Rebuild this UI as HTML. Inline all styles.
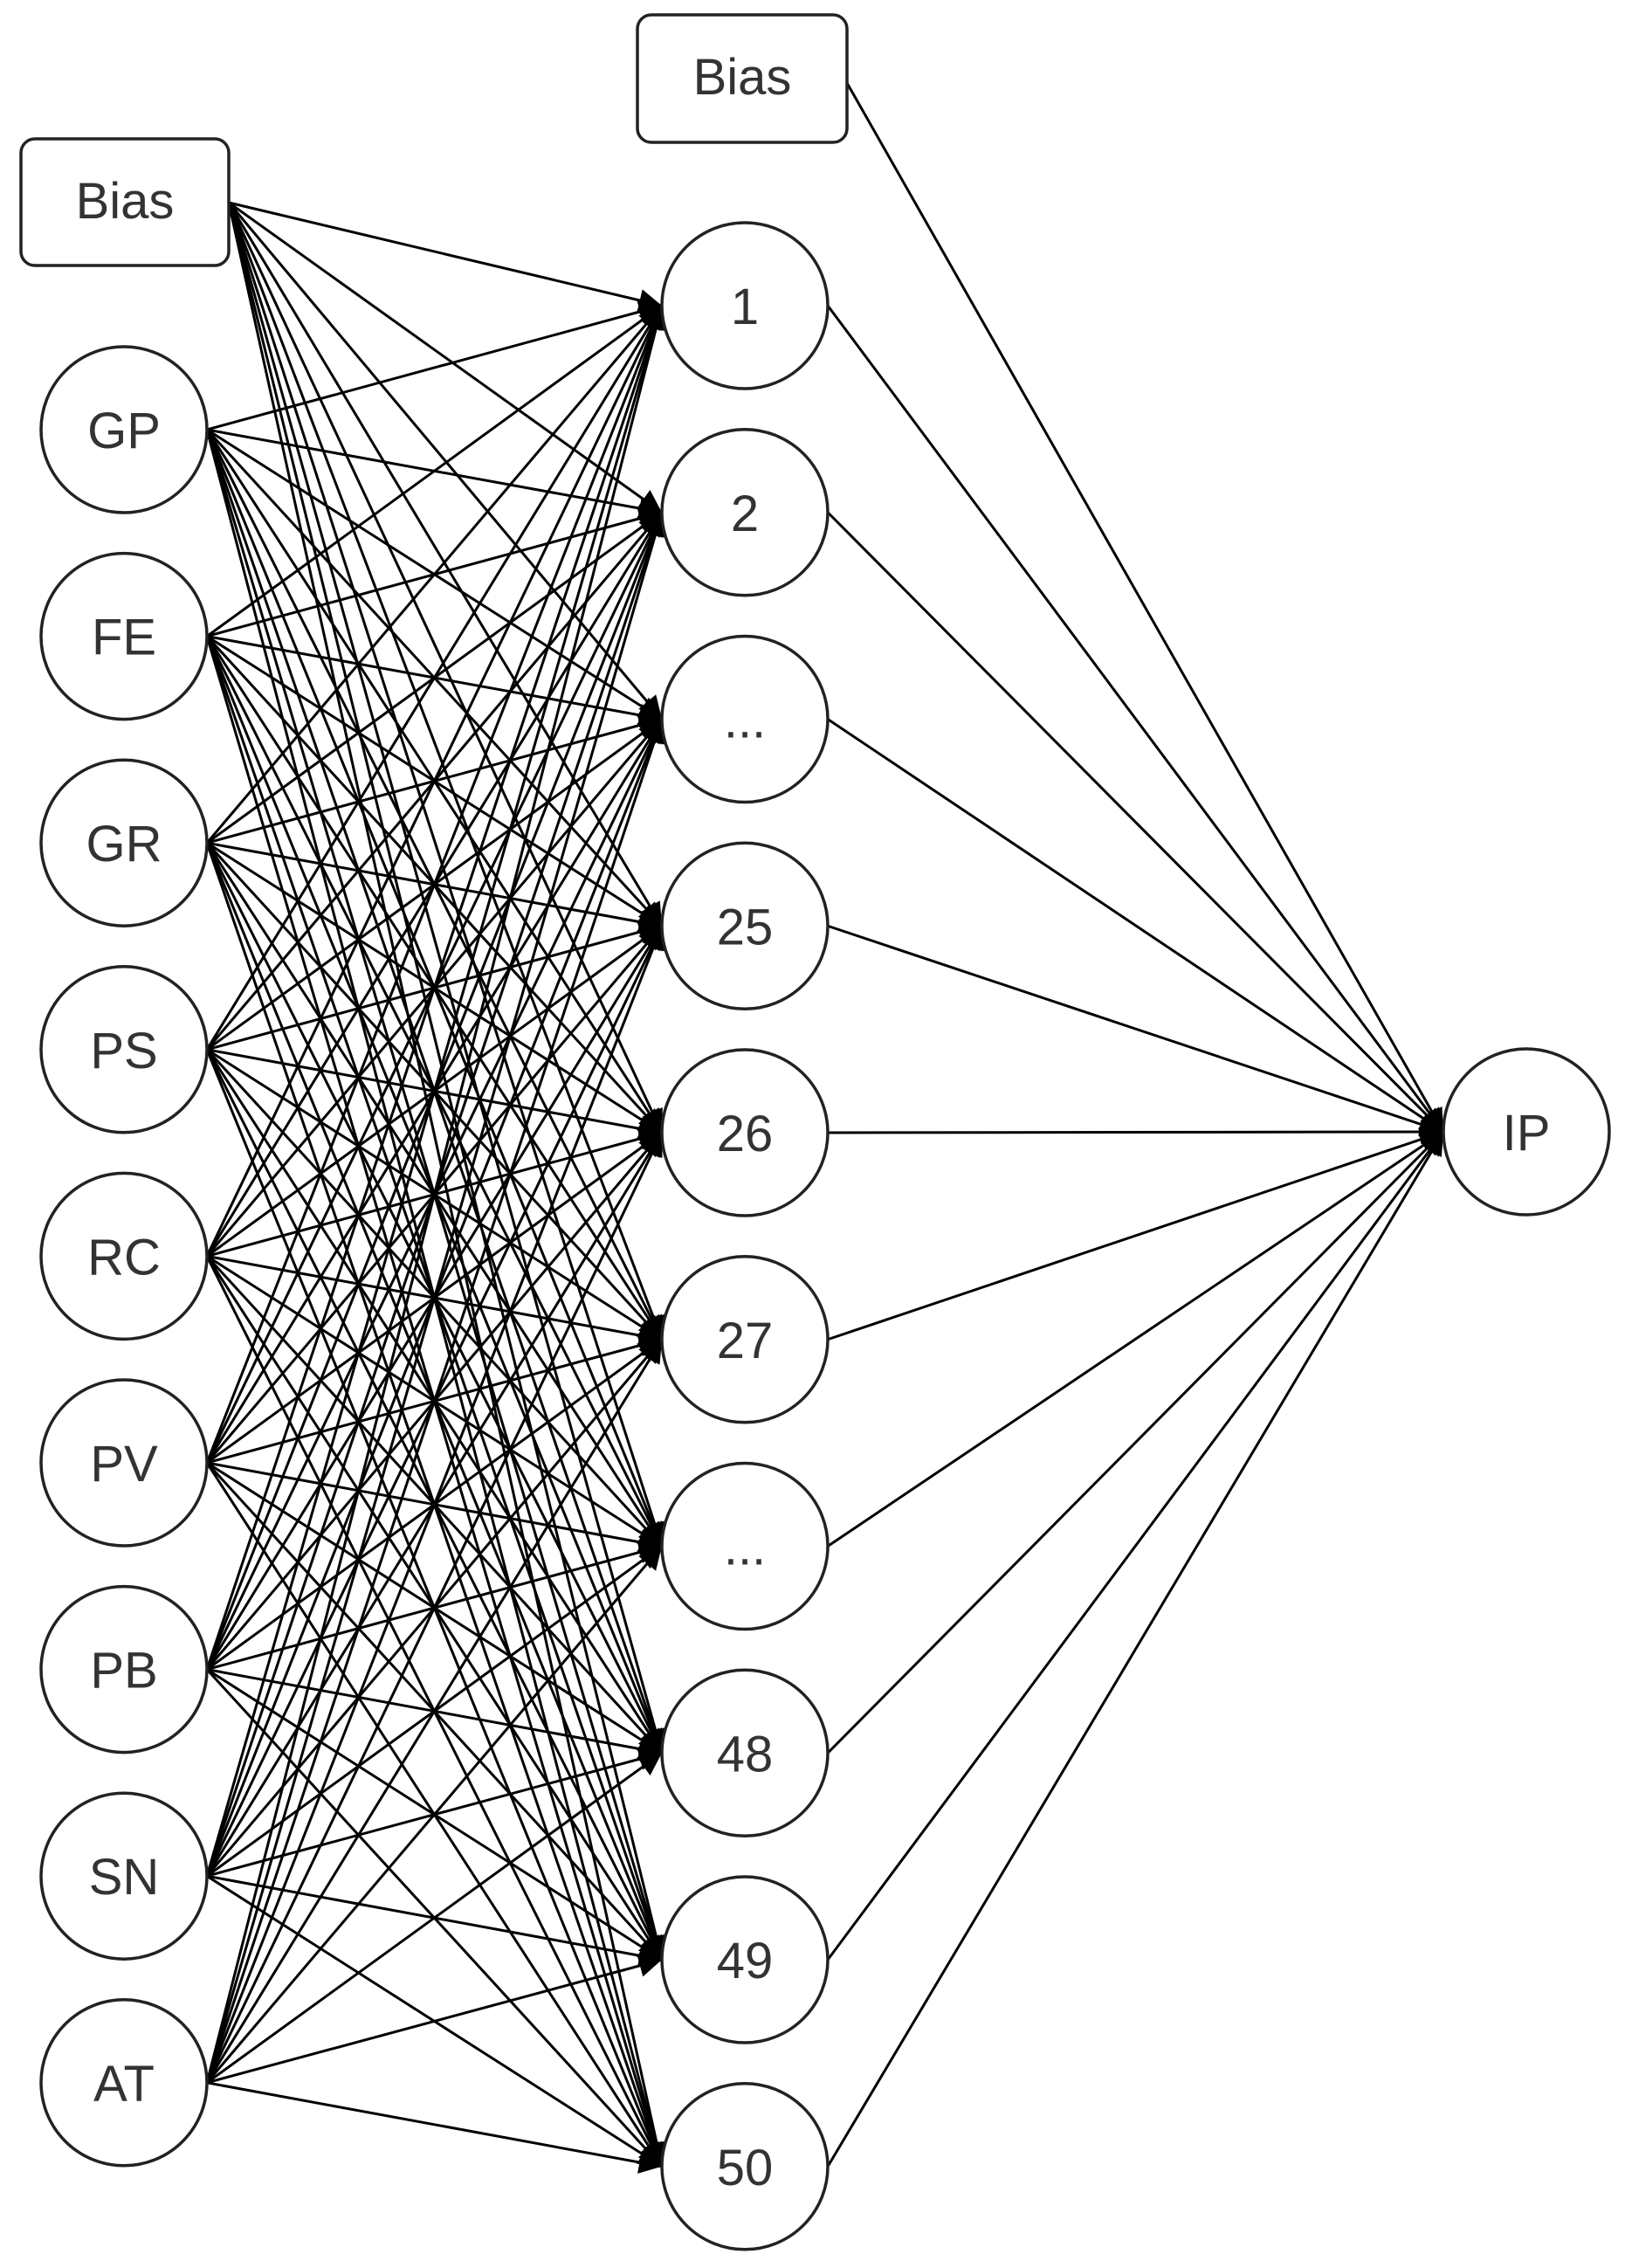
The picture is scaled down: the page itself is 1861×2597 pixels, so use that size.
<!DOCTYPE html>
<html><head><meta charset="utf-8"><style>
html,body{margin:0;padding:0;background:#fff;}
svg{display:block;}
text{font-family:"Liberation Sans",sans-serif;fill:#333;}
</style></head><body>
<svg id="s" width="1861" height="2597" viewBox="0 0 1861 2597" xmlns="http://www.w3.org/2000/svg">
<defs>
<marker id="a" viewBox="0 0 10 10" refX="10" refY="5" markerWidth="7" markerHeight="7" markerUnits="userSpaceOnUse" orient="auto"></marker>
</defs>
<g id="lines" stroke="#000" stroke-width="3" fill="none"></g>
<g id="heads" fill="#000"></g>
<g id="nodes" stroke="#222" stroke-width="3.5" fill="#fff"></g>
<g id="labels" font-size="58" text-anchor="middle"></g>
</svg>
<script>
var NS="http://www.w3.org/2000/svg";
function el(p,t,a,txt){var e=document.createElementNS(NS,t);for(var k in a)e.setAttribute(k,a[k]);if(txt!==undefined)e.textContent=txt;document.getElementById(p).appendChild(e);return e;}
var R=95;
var inNames=["GP","FE","GR","PS","RC","PV","PB","SN","AT"];
var inX=142, hX=853, ipX=1748, ipY=1296;
var hNames=["1","2","...","25","26","27","...","48","49","50"];
function inY(i){return 492+236.6*i;}
function hY(i){return 350+236.75*i;}
function line(x1,y1,x2,y2){el("lines","line",{x1:x1,y1:y1,x2:x2,y2:y2});}
function head(x2,y2,x1,y1){var dx=x2-x1,dy=y2-y1,L=Math.sqrt(dx*dx+dy*dy);dx/=L;dy/=L;var l=26,w=13;
var bx=x2-dx*l,by=y2-dy*l;
el("heads","polygon",{points:x2+","+y2+" "+(bx-dy*w)+","+(by+dx*w)+" "+(bx+dy*w)+","+(by-dx*w)});}
// bias -> hidden
var bx=262,by=232;
for(var j=0;j<10;j++){var tx=hX-R,ty=hY(j);line(bx,by,tx,ty);}
for(var i=0;i<9;i++){for(var j=0;j<10;j++){line(inX+R,inY(i),hX-R,hY(j));}}
for(var j=0;j<10;j++){head(hX-R,hY(j),bx,by);for(var i=0;i<9;i++)head(hX-R,hY(j),inX+R,inY(i));}
// hidden -> IP
for(var j=0;j<10;j++){line(hX+R,hY(j),ipX-R,ipY);head(ipX-R,ipY,hX+R,hY(j));}
line(970,95,ipX-R,ipY);head(ipX-R,ipY,970,95);
// nodes
el("nodes","rect",{x:24,y:159,width:238,height:145,rx:16,ry:16});
el("labels","text",{x:143,y:250},"Bias");
el("nodes","rect",{x:730,y:17,width:240,height:146,rx:16,ry:16});
el("labels","text",{x:850,y:108},"Bias");
for(var i=0;i<9;i++){el("nodes","circle",{cx:inX,cy:inY(i),r:R});el("labels","text",{x:inX,y:inY(i)+21},inNames[i]);}
for(var j=0;j<10;j++){el("nodes","circle",{cx:hX,cy:hY(j),r:R});el("labels","text",{x:hX,y:hY(j)+21},hNames[j]);}
el("nodes","circle",{cx:ipX,cy:ipY,r:R});el("labels","text",{x:ipX,y:ipY+21},"IP");
</script>
</body></html>
